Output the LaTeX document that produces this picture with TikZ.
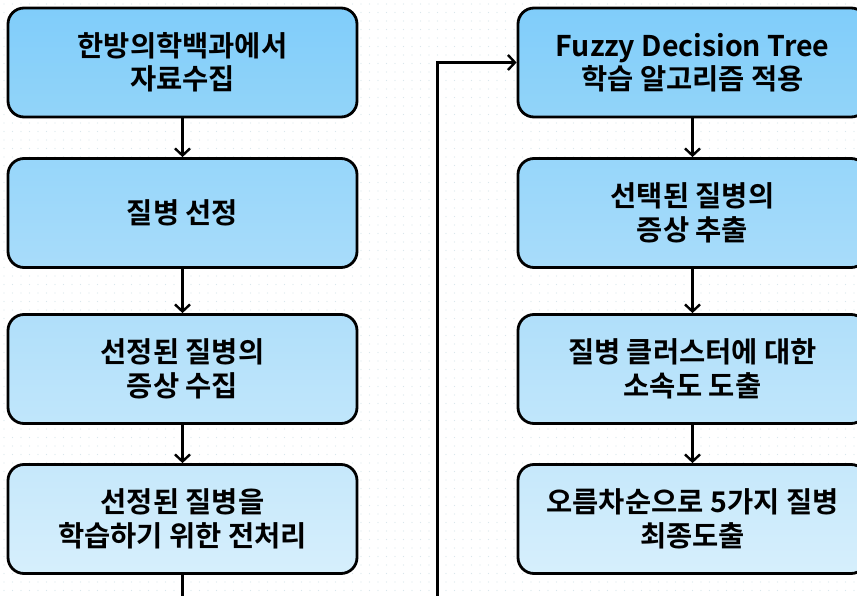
\documentclass[tikz,border=0pt]{standalone}
\usepackage{fontspec}
\setmainfont{Noto Sans CJK KR}[BoldFont={* Bold}]
\usetikzlibrary{arrows.meta}
\definecolor{dotc}{HTML}{D9E7EB}
\definecolor{bA1}{HTML}{80CDFA}\definecolor{bA2}{HTML}{92D4F9}
\definecolor{bB1}{HTML}{97D6FA}\definecolor{bB2}{HTML}{A8DCFA}
\definecolor{bC1}{HTML}{B0DFFA}\definecolor{bC2}{HTML}{C0E6FB}
\definecolor{bD1}{HTML}{C6E8FB}\definecolor{bD2}{HTML}{D6EFFC}
\tikzset{
  stepbox/.style={draw=black, line width=2.8pt, rounded corners=16pt,
    minimum width=349pt, minimum height=109pt, align=center,
    font=\bfseries\fontsize{28.5}{33.5}\selectfont, inner sep=0pt},
  flow/.style={line width=2.4pt, -{Straight Barb[length=7pt,width=15pt,line width=2.4pt]}},
  plain/.style={line width=2.4pt}
}
\begin{document}
\begin{tikzpicture}[x=1pt,y=-1pt]
\useasboundingbox (0,0) rectangle (857,596);
\clip (0,0) rectangle (857,596);
\fill[white] (0,0) rectangle (857,596);
% dotted background grid
\foreach \i in {0,...,101}{
  \foreach \j in {0,...,70}{
    \fill[dotc] (4+8.5*\i,4+8.5*\j) circle (0.7pt);
  }
}
% left column
\node[stepbox, top color=bA1, bottom color=bA2] (L1) at (182.5,62.5) {한방의학백과에서\\자료수집};
\node[stepbox, top color=bB1, bottom color=bB2] (L2) at (182.5,213) {질병 선정};
\node[stepbox, top color=bC1, bottom color=bC2] (L3) at (182.5,369) {선정된 질병의\\증상 수집};
\node[stepbox, top color=bD1, bottom color=bD2] (L4) at (182.5,519) {선정된 질병을\\학습하기 위한 전처리};
% right column
\node[stepbox, top color=bA1, bottom color=bA2] (R1) at (692.5,62.5) {Fuzzy Decision Tree\\학습 알고리즘 적용};
\node[stepbox, top color=bB1, bottom color=bB2] (R2) at (692.5,213) {선택된 질병의\\증상 추출};
\node[stepbox, top color=bC1, bottom color=bC2] (R3) at (692.5,369) {질병 클러스터에 대한\\소속도 도출};
\node[stepbox, top color=bD1, bottom color=bD2] (R4) at (692.5,519) {오름차순으로 5가지 질병\\최종도출};
% connectors
\draw[flow] (L1) -- (L2);
\draw[flow] (L2) -- (L3);
\draw[flow] (L3) -- (L4);
\draw[flow] (R1) -- (R2);
\draw[flow] (R2) -- (R3);
\draw[flow] (R3) -- (R4);
\coordinate (Lout) at (182.5,600);
\coordinate (Rin) at (437.5,600);
\draw[plain] (L4) -- (Lout);
\draw[flow] (Rin) |- (R1.west);
\end{tikzpicture}
\end{document}
